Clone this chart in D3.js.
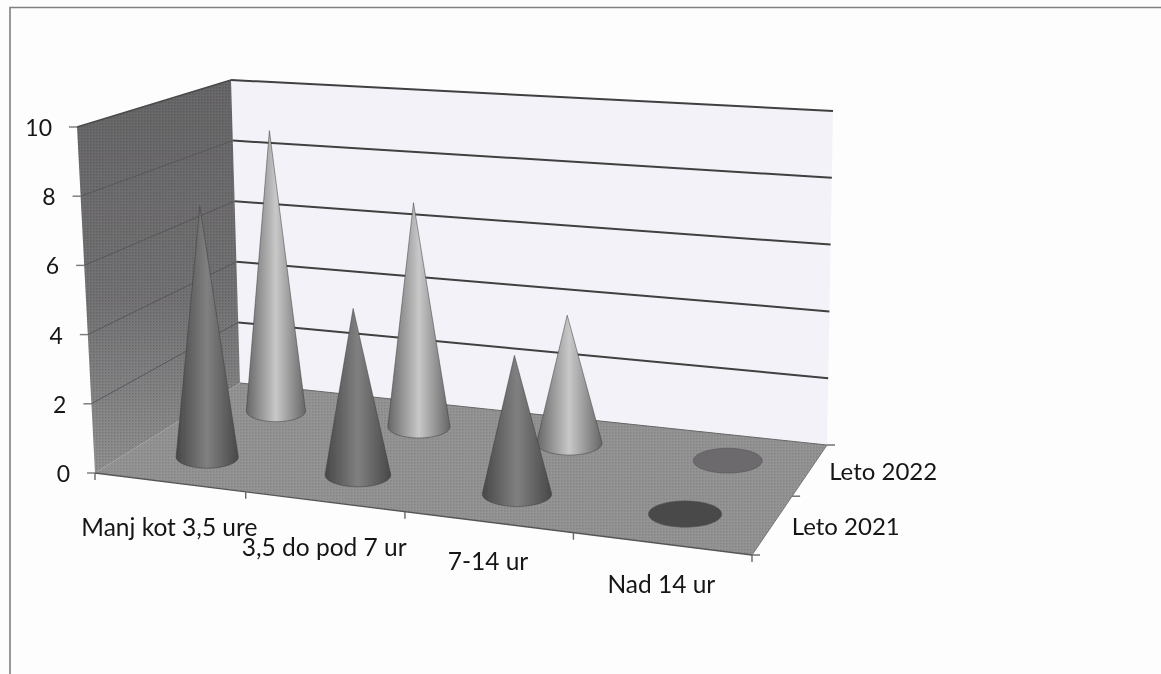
<!DOCTYPE html>
<html>
<head>
<meta charset="utf-8">
<script src="https://cdn.jsdelivr.net/npm/d3@7"></script>
<style>
    html, body { margin: 0; padding: 0; background: #fdfdfd; overflow: hidden; }
    text { font-family: "Lato", "Open Sans", sans-serif; fill: #161616; }
</style>
</head>
<body>
<div id="chart"></div>
<script>
// data
const categories = ["Manj kot 3,5 ure", "3,5 do pod 7 ur", "7-14 ur", "Nad 14 ur"];
const seriesNames = ["Leto 2021", "Leto 2022"];
const leto2021 = [7.4, 4.8, 3.9, 0];
const leto2022 = [8.85, 6.9, 3.85, 0];
const yTicks = [0, 2, 4, 6, 8, 10];

const width = 1161, height = 674;

// screen position of the box corners (topFR is hidden, estimated from the other edges)
const floorFL = [95, 473], floorFR = [752, 555], floorBR = [827, 445], floorBL = [240, 383];
const topFL = [77, 127], topFR = [765, 174], topBR = [833, 111], topBL = [231, 80];

// square -> quad homography
function quadMatrix(p0, p1, p2, p3) {
    const dx1 = p1[0] - p2[0], dx2 = p3[0] - p2[0], sx = p0[0] - p1[0] + p2[0] - p3[0];
    const dy1 = p1[1] - p2[1], dy2 = p3[1] - p2[1], sy = p0[1] - p1[1] + p2[1] - p3[1];
    const den = dx1 * dy2 - dx2 * dy1;
    const g = (sx * dy2 - dx2 * sy) / den;
    const h = (dx1 * sy - sx * dy1) / den;
    const a = p1[0] - p0[0] + g * p1[0], b = p3[0] - p0[0] + h * p3[0];
    const d = p1[1] - p0[1] + g * p1[1], e = p3[1] - p0[1] + h * p3[1];
    return (u, v) => {
        const w = g * u + h * v + 1;
        return [(a * u + b * v + p0[0]) / w, (d * u + e * v + p0[1]) / w];
    };
}
const floorAt = quadMatrix(floorFL, floorFR, floorBR, floorBL);
const topAt = quadMatrix(topFL, topFR, topBR, topBL);

// scales: category -> u, series -> v, value -> share of the wall height
const uScale = d3.scaleBand().domain(categories).range([0, 1]);
const vScale = d3.scaleBand().domain(seriesNames).range([0, 1]);
const hScale = d3.scaleLinear().domain([0, 10]).range([0, 1]);

function project(u, v, value) {
    const p = floorAt(u, v), q = topAt(u, v), h = hScale(value);
    return [p[0] + h * (q[0] - p[0]), p[1] + h * (q[1] - p[1])];
}

const line = d3.line();

const svg = d3.select("#chart").append("svg")
    .attr("width", width)
    .attr("height", height)
    .style("display", "block");

const defs = svg.append("defs");

defs.append("filter").attr("id", "scan")
    .attr("x", 0).attr("y", 0).attr("width", 1).attr("height", 1)
    .append("feGaussianBlur").attr("stdDeviation", 0.55);

function dotPattern(id, base, dot) {
    const p = defs.append("pattern").attr("id", id)
        .attr("width", 3).attr("height", 3)
        .attr("patternUnits", "userSpaceOnUse");
    p.append("rect").attr("width", 3).attr("height", 3).attr("fill", base);
    p.append("rect").attr("width", 1.5).attr("height", 1.5).attr("fill", dot);
}
dotPattern("floorDots", "#949494", "#858585");
dotPattern("wallDots", "rgba(0,0,0,0)", "rgba(0,0,0,0.14)");

const wallGrad = defs.append("linearGradient").attr("id", "wallGrad")
    .attr("gradientUnits", "userSpaceOnUse")
    .attr("x1", 0).attr("y1", 80).attr("x2", 0).attr("y2", 473);
wallGrad.append("stop").attr("offset", 0).attr("stop-color", "#686769");
wallGrad.append("stop").attr("offset", 0.55).attr("stop-color", "#737274");
wallGrad.append("stop").attr("offset", 1).attr("stop-color", "#929192");

const g = svg.append("g").attr("filter", "url(#scan)");

g.append("rect").attr("width", width).attr("height", height).attr("fill", "#fdfdfd");

// page frame of the scan, no right edge
g.append("path")
    .attr("d", line([[10, height], [10, 7.5], [width, 7.5]]))
    .attr("fill", "none")
    .attr("stroke", "#7f7f7f")
    .attr("stroke-width", 1.6);

// walls and floor
g.append("path")
    .attr("d", line([topBL, topBR, floorBR, floorBL]) + "Z")
    .attr("fill", "#f3f2f8");

const sideWall = line([topFL, topBL, floorBL, floorFL]) + "Z";
g.append("path").attr("d", sideWall).attr("fill", "url(#wallGrad)");
g.append("path").attr("d", sideWall).attr("fill", "url(#wallDots)");

g.append("path")
    .attr("d", line([floorFL, floorFR, floorBR, floorBL]) + "Z")
    .attr("fill", "url(#floorDots)");

// gridlines, back wall and side wall
yTicks.filter(d => d > 0).forEach(d => {
    g.append("path")
        .attr("d", line([project(0, 1, d), project(1, 1, d)]))
        .attr("fill", "none")
        .attr("stroke", "#3f3f3f")
        .attr("stroke-width", 2);
    g.append("path")
        .attr("d", line([project(0, 0, d), project(0, 1, d)]))
        .attr("fill", "none")
        .attr("stroke", d === 10 ? "#4a4a4a" : "#585659")
        .attr("stroke-width", d === 10 ? 1.6 : 1);
});

// front edge and side edge of the floor
g.append("path").attr("d", line([floorFL, floorFR])).attr("fill", "none").attr("stroke", "#555").attr("stroke-width", 1.4);
g.append("path").attr("d", line([floorFR, floorBR])).attr("fill", "none").attr("stroke", "#777").attr("stroke-width", 1);
g.append("path").attr("d", line([floorBR, floorBL])).attr("fill", "none").attr("stroke", "#666").attr("stroke-width", 1);

// value axis
yTicks.forEach(d => {
    const p = project(0, 0, d);
    g.append("path")
        .attr("d", line([[p[0] - 8, p[1]], p]))
        .attr("stroke", "#777")
        .attr("stroke-width", 1.4);
    g.append("text")
        .attr("x", p[0] - 25)
        .attr("y", p[1] + 9)
        .attr("text-anchor", "end")
        .style("font-size", "23px")
        .text(d);
});

// category axis, Excel staggers these labels
const catLabelDy = [54, 54, 48, 49];
const catTicks = d3.range(categories.length + 1).map(i => i / categories.length);
catTicks.forEach(u => {
    const p = project(u, 0, 0);
    g.append("path")
        .attr("d", line([p, [p[0], p[1] + 7]]))
        .attr("stroke", "#666")
        .attr("stroke-width", 1.4);
});
categories.forEach((c, i) => {
    const p = project(uScale(c) + uScale.bandwidth() / 2, 0, 0);
    g.append("text")
        .attr("x", p[0])
        .attr("y", p[1] + catLabelDy[i])
        .attr("text-anchor", "middle")
        .style("font-size", "24.5px")
        .text(c);
});

// series axis
d3.range(seriesNames.length + 1).map(i => i / seriesNames.length).forEach(v => {
    const p = project(1, v, 0);
    g.append("path")
        .attr("d", line([p, [p[0] + 8, p[1]]]))
        .attr("stroke", "#666")
        .attr("stroke-width", 1.4);
});
seriesNames.forEach(s => {
    const p = project(1, vScale(s) + vScale.bandwidth() / 2, 0);
    g.append("text")
        .attr("x", p[0] + 19)
        .attr("y", p[1] + 10)
        .style("font-size", "24px")
        .text(s);
});

// cones, back row first
const coneStyle = {
    "Leto 2021": { edge: "#484848", mid: "#808080", flat: "#4a4a4a" },
    "Leto 2022": { edge: "#666666", mid: "#c8c8c8", flat: "#6c6a6c" }
};
const coneLean = 0.6; // the cones lean less than the side wall does

function drawCone(category, series, value, idx) {
    const u = uScale(category) + uScale.bandwidth() / 2;
    const v = vScale(series) + vScale.bandwidth() / 2;
    const base = project(u, v, 0);
    const top = project(u, v, value);
    const tip = [base[0] + coneLean * (top[0] - base[0]), top[1]];
    // radius follows the local size of one category along the floor
    const a = project(u - 0.125, v, 0), b = project(u + 0.125, v, 0);
    const rx = 0.212 * (b[0] - a[0]);
    const ry = rx * 0.36;
    const rim = d3.range(72).map(i => {
        const t = i / 72 * 2 * Math.PI;
        return [base[0] + rx * Math.cos(t), base[1] + ry * Math.sin(t)];
    });
    const style = coneStyle[series];

    if (value === 0) {
        g.append("path")
            .attr("d", line(rim) + "Z")
            .attr("fill", style.flat)
            .attr("stroke", "#555")
            .attr("stroke-width", 0.6);
        return;
    }

    const id = "cone" + idx;
    const grad = defs.append("linearGradient").attr("id", id)
        .attr("gradientUnits", "userSpaceOnUse")
        .attr("x1", base[0] - rx).attr("y1", 0)
        .attr("x2", base[0] + rx).attr("y2", 0);
    grad.append("stop").attr("offset", 0).attr("stop-color", style.edge);
    grad.append("stop").attr("offset", 0.5).attr("stop-color", style.mid);
    grad.append("stop").attr("offset", 1).attr("stop-color", style.edge);

    g.append("path")
        .attr("d", line(d3.polygonHull(rim.concat([tip]))) + "Z")
        .attr("fill", "url(#" + id + ")")
        .attr("stroke", "#3c3c3c")
        .attr("stroke-opacity", 0.55)
        .attr("stroke-width", 0.9);
}

seriesNames.slice().reverse().forEach(s => {
    const values = s === "Leto 2021" ? leto2021 : leto2022;
    categories.forEach((c, i) => drawCone(c, s, values[i], s.slice(-2) + i));
});
</script>
</body>
</html>
